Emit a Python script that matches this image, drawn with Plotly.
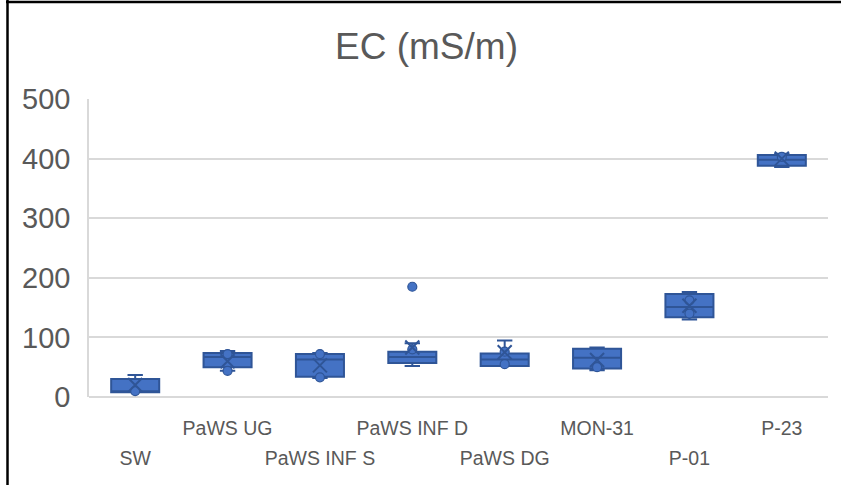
import plotly.graph_objects as go

categories = ["SW", "PaWS UG", "PaWS INF S", "PaWS INF D", "PaWS DG", "MON-31", "P-01", "P-23"]
lower_whisker = [8, 44, 32, 52, 54, 45, 130, 386]
q1 = [8, 50, 34, 57, 52, 48, 134, 388]
median = [9, 67, 63, 67, 63, 66, 151, 398]
q3 = [30, 74, 72, 76, 73, 81, 173, 406]
upper_whisker = [37, 77, 74, 90, 95, 83, 176, 408]
means = [20, 60, 53, 83, 75, 62, 153, 400]
# individual points (inner points and outliers)
point_cats = ["SW", "PaWS UG", "PaWS UG", "PaWS INF S", "PaWS INF S", "PaWS INF D", "PaWS INF D",
              "PaWS DG", "PaWS DG", "MON-31", "P-01", "P-01", "P-23"]
point_vals = [10, 44, 72, 72, 33, 80, 185, 76, 55, 50, 162, 140, 403]

y_ticks = [0, 100, 200, 300, 400, 500]
title_text = "EC (mS/m)"

W, H = 841, 485
ml, mr, mt, mb = 89, 13, 99, 88

fill = "#4472C4"
edge = "#2F5597"
txt = "#595959"

fig = go.Figure()
fig.add_trace(go.Box(
    x=categories, q1=q1, median=median, q3=q3,
    lowerfence=lower_whisker, upperfence=upper_whisker,
    fillcolor=fill, line=dict(color=edge, width=2),
    width=0.52, whiskerwidth=0.32, boxpoints=False,
    showlegend=False, hoverinfo="y"))
fig.add_trace(go.Scatter(
    x=point_cats, y=point_vals, mode="markers",
    marker=dict(symbol="circle", size=9, color=fill, line=dict(color=edge, width=1.2)),
    showlegend=False))
fig.add_trace(go.Scatter(
    x=categories, y=means, mode="markers", xaxis="x2",
    marker=dict(symbol="x-thin-open", size=14, color=edge, line=dict(color=edge, width=2)),
    showlegend=False))

upper_row = [c for i, c in enumerate(categories) if i % 2 == 1]
lower_row = [c for i, c in enumerate(categories) if i % 2 == 0]

pw = W - ml - mr
ph = H - mt - mb

def px_to_paper_x(px):
    return (px - ml) / pw

def px_to_paper_y(py):
    return (H - mb - py) / ph

common_x = dict(type="category", categoryorder="array", categoryarray=categories,
                tickmode="array", tickfont=dict(size=19.5, color=txt),
                showgrid=False, showline=False, zeroline=False,
                tickangle=0, automargin=False, ticks="",
                range=[-0.5, len(categories) - 0.5])

fig.update_layout(
    width=W, height=H,
    margin=dict(l=ml, r=mr, t=mt, b=mb, pad=0, autoexpand=False),
    paper_bgcolor="white", plot_bgcolor="white",
    font=dict(family="Liberation Sans, Arial, sans-serif", color=txt),
    title=dict(text=title_text, x=426.5 / W, xref="container", xanchor="center",
               y=1 - 46 / H, yref="container", yanchor="middle",
               font=dict(size=37, color=txt)),
    xaxis=dict(common_x, tickvals=upper_row, ticktext=upper_row, ticklabelstandoff=17),
    xaxis2=dict(common_x, tickvals=lower_row, ticktext=lower_row, ticklabelstandoff=47,
                overlaying="x", matches="x", side="bottom"),
    yaxis=dict(range=[0, 500], tickvals=y_ticks, tickfont=dict(size=29, color=txt),
               showgrid=True, gridcolor="#D9D9D9", gridwidth=1.5, automargin=False,
               zeroline=True, zerolinecolor="#D9D9D9", zerolinewidth=1.5,
               showline=True, linecolor="#D9D9D9", linewidth=1.5,
               ticks="", ticklabelstandoff=11),
    shapes=[
        dict(type="line", xref="paper", yref="paper",
             x0=px_to_paper_x(7.5), x1=px_to_paper_x(7.5),
             y0=px_to_paper_y(0), y1=px_to_paper_y(H),
             line=dict(color="black", width=2.5)),
        dict(type="line", xref="paper", yref="paper",
             x0=px_to_paper_x(6), x1=px_to_paper_x(W),
             y0=px_to_paper_y(2), y1=px_to_paper_y(2),
             line=dict(color="black", width=2.5)),
    ],
)

fig.write_html("out.html", config={"displayModeBar": False},
               post_script="document.body.style.margin='0';")
